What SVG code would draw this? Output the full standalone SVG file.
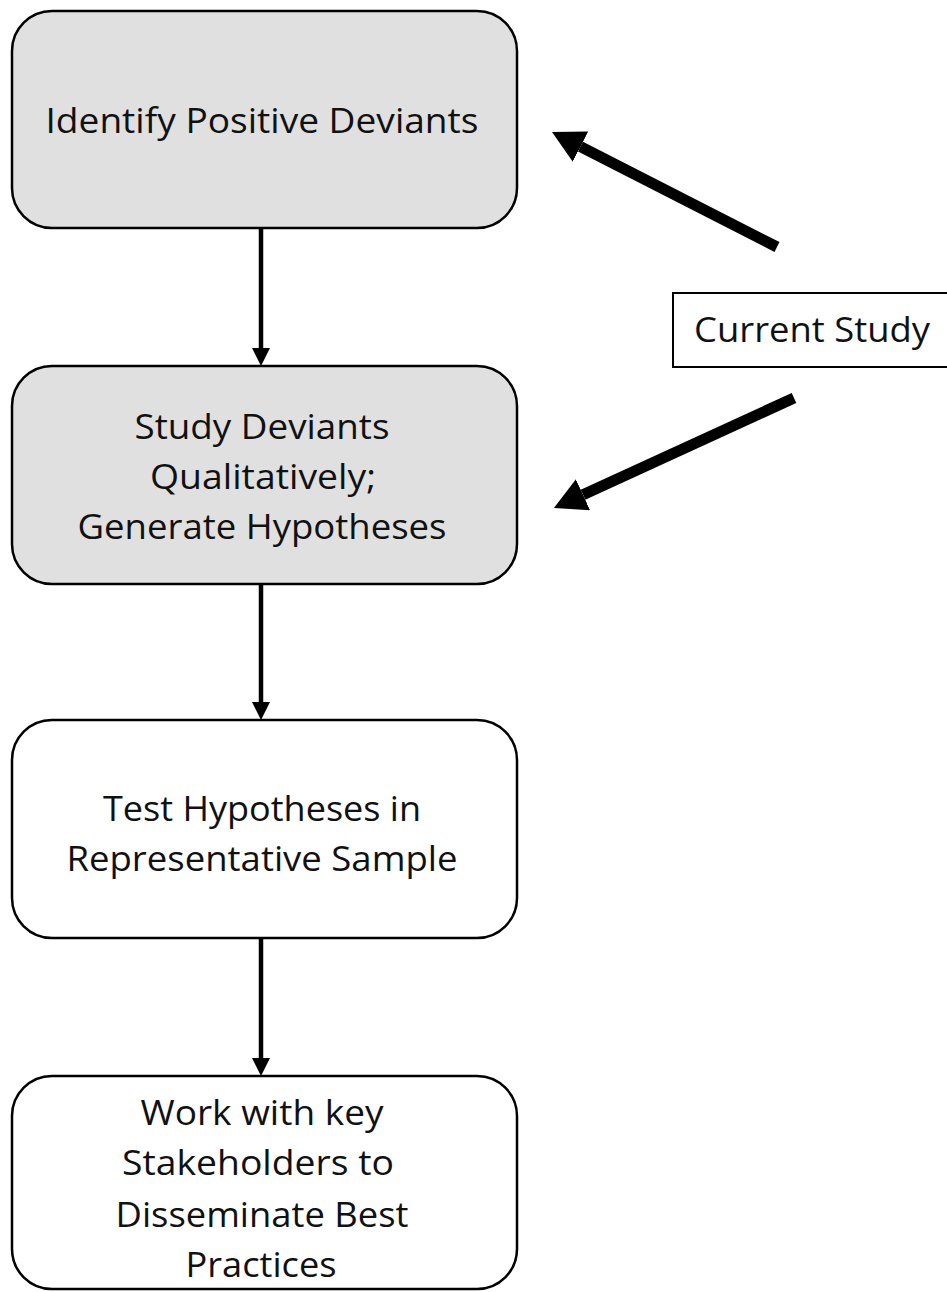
<svg xmlns="http://www.w3.org/2000/svg" width="947" height="1292" viewBox="0 0 947 1292">
<style>
.box{stroke:#000;stroke-width:2.5}
.grey{fill:#e0e0e0}
.white{fill:#fff}
.t{font-family:"Open Sans","Noto Sans","Liberation Sans",sans-serif;font-size:35px;fill:#111;text-anchor:middle}
.lbl{font-family:"Open Sans","Noto Sans","Liberation Sans",sans-serif;font-size:35px;fill:#111}
.v{stroke:#000;stroke-width:4.5;fill:none}
.d{stroke:#000;stroke-width:11;fill:none}
</style>
<defs>
<marker id="small" viewBox="0 0 18 18" refX="0" refY="9" markerWidth="18" markerHeight="18" markerUnits="userSpaceOnUse" orient="auto">
<path d="M0,0 L18,9 L0,18 z" fill="#000"/>
</marker>
<marker id="big" viewBox="0 0 32 34" refX="0" refY="17" markerWidth="32" markerHeight="34" markerUnits="userSpaceOnUse" orient="auto">
<path d="M0,0 L32,17 L0,34 z" fill="#000"/>
</marker>
</defs>
<rect width="947" height="1292" fill="#fff"/>
<g id="n1">
<rect class="box grey" x="12" y="11" width="505" height="217" rx="40"/>
<text class="t" x="262" y="133" textLength="433" lengthAdjust="spacingAndGlyphs">Identify Positive Deviants</text>
</g>
<g id="n2">
<rect class="box grey" x="12" y="366" width="505" height="218" rx="40"/>
<text class="t" x="262" y="439" textLength="255" lengthAdjust="spacingAndGlyphs">Study Deviants</text>
<text class="t" x="263" y="489" textLength="226" lengthAdjust="spacingAndGlyphs">Qualitatively;</text>
<text class="t" x="262" y="539" textLength="369" lengthAdjust="spacingAndGlyphs">Generate Hypotheses</text>
</g>
<g id="n3">
<rect class="box white" x="12" y="720" width="505" height="218" rx="40"/>
<text class="t" x="262" y="821" textLength="318" lengthAdjust="spacingAndGlyphs">Test Hypotheses in</text>
<text class="t" x="262" y="871" textLength="391" lengthAdjust="spacingAndGlyphs">Representative Sample</text>
</g>
<g id="n4">
<rect class="box white" x="12" y="1076" width="505" height="213" rx="40"/>
<text class="t" x="262" y="1125" textLength="243" lengthAdjust="spacingAndGlyphs">Work with key</text>
<text class="t" x="258" y="1175" textLength="272" lengthAdjust="spacingAndGlyphs">Stakeholders to</text>
<text class="t" x="262" y="1227" textLength="293" lengthAdjust="spacingAndGlyphs">Disseminate Best</text>
<text class="t" x="261" y="1277" textLength="151" lengthAdjust="spacingAndGlyphs">Practices</text>
</g>
<g id="current">
<rect x="673" y="293" width="290" height="74" fill="#fff" stroke="#000" stroke-width="2"/>
<text class="lbl" x="694" y="342" textLength="236" lengthAdjust="spacingAndGlyphs">Current Study</text>
</g>
<g id="connectors">
<line class="v" x1="261" y1="229" x2="261" y2="348" marker-end="url(#small)"/>
<line class="v" x1="261" y1="585" x2="261" y2="702" marker-end="url(#small)"/>
<line class="v" x1="261" y1="939" x2="261" y2="1058" marker-end="url(#small)"/>
<line class="d" x1="777" y1="247" x2="580.5" y2="146.6" marker-end="url(#big)"/>
<line class="d" x1="794" y1="398" x2="583" y2="494.7" marker-end="url(#big)"/>
</g>
</svg>
